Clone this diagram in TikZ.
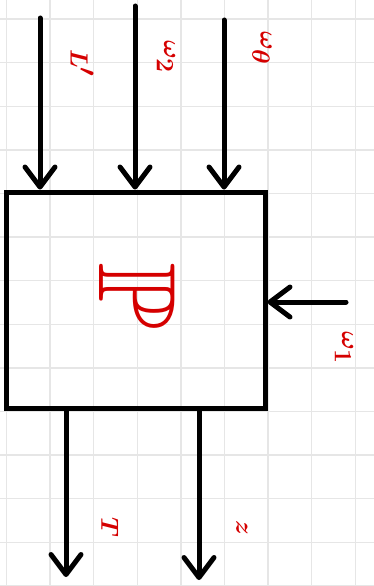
\documentclass[tikz,border=0pt]{standalone}
\usepackage{amsmath}
\usepackage{amssymb}
\usepackage{tikz}
\usetikzlibrary{arrows.meta, positioning}
\definecolor{PenRed}{RGB}{213,0,0}
\definecolor{GridGray}{RGB}{230,230,230}

\begin{document}
\begin{tikzpicture}[
    x=1pt, y=-1pt,
    plantbox/.style={rectangle, draw, line width=5pt, minimum width=259pt, minimum height=216pt, inner sep=0pt},
    arrow/.style={-{Straight Barb[length=20pt, width=30pt, round]}, line width=5pt, line cap=round},
    gridline/.style={GridGray, line width=1.4pt},
    label/.style={text=PenRed, rotate=-90, inner sep=0pt, font=\fontsize{54}{54}\selectfont\boldmath}
]
\useasboundingbox (0,0) rectangle (374,586);

% Grid paper
\foreach \gx in {0,...,8}
    \draw[gridline] ({6.5+43.6*\gx},0) -- ++(0,586);
\foreach \gy in {0,...,13}
    \draw[gridline] (0,{19+43.6*\gy}) -- ++(374,0);

% Plant block
\node[plantbox] (plant) at (135.5,300) {};
\node[text=PenRed, rotate=-90, inner sep=0pt, font=\fontsize{110}{110}\selectfont] (sym) at (137,296) {$\mathbb{P}$};

% Inputs (top and right)
\coordinate (inL) at (40,18);
\coordinate (inW) at (135,6);
\coordinate (inT) at (224,20);
\coordinate (inD) at (346,302);
\draw[arrow] (inL) -- (inL |- plant.north);
\draw[arrow] (inW) -- (inW |- plant.north);
\draw[arrow] (inT) -- (inT |- plant.north);
\draw[arrow] (inD) -- (inD -| plant.east);

% Outputs (bottom)
\coordinate (outT) at (66,577);
\coordinate (outZ) at (199,580);
\draw[arrow] (outT |- plant.south) -- (outT);
\draw[arrow] (outZ |- plant.south) -- (outZ);

% Labels
\node[label] (labL) at (82,63) {$L'$};
\node[label] (labW) at (166,57) {$\omega_2$};
\node[label] (labT) at (262,48) {$\omega_\theta$};
\node[label] (labD) at (344,348) {$\omega_1$};
\node[label] (labOT) at (110,527) {$T$};
\node[label] (labOZ) at (242,528) {$z$};
\end{tikzpicture}
\end{document}
